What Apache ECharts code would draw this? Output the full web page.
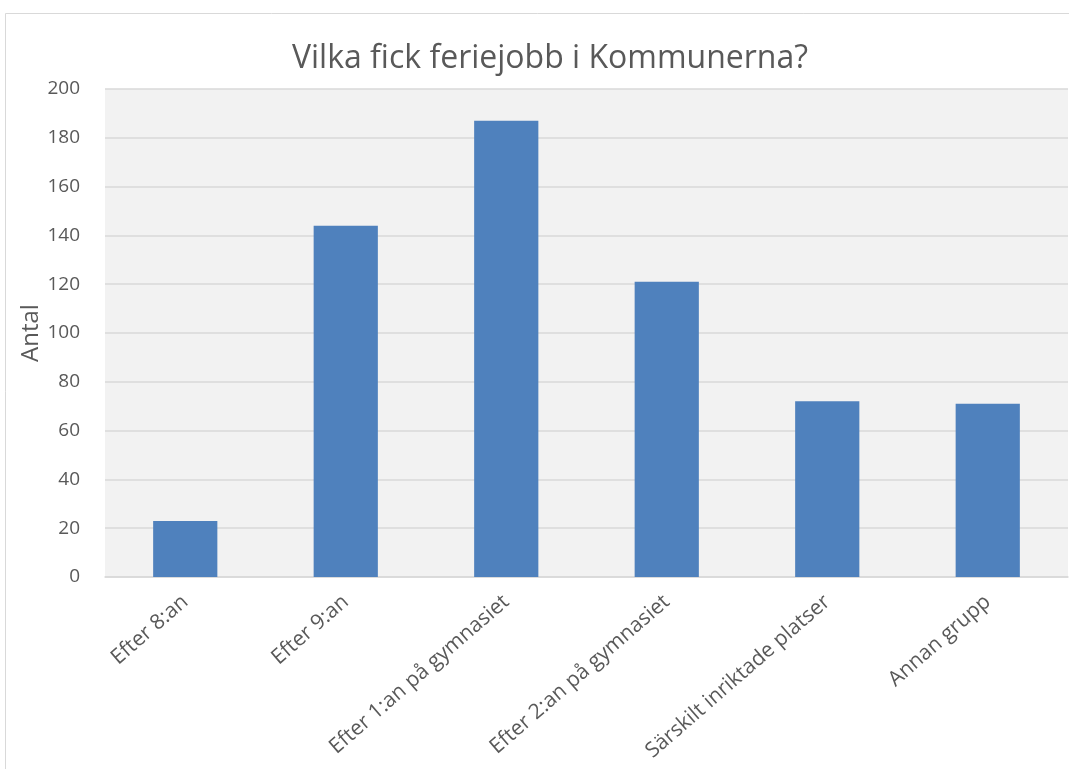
<!DOCTYPE html>
<html>
<head>
<meta charset="utf-8">
<script src="https://cdn.jsdelivr.net/npm/echarts@6/dist/echarts.min.js"></script>
<style>
  html, body { margin: 0; padding: 0; background: #fff; }
  #chart { width: 1069px; height: 769px; }
</style>
</head>
<body>
<div id="chart"></div>
<script>
var categories = ['Efter 8:an', 'Efter 9:an', 'Efter 1:an på gymnasiet', 'Efter 2:an på gymnasiet', 'Särskilt inriktade platser', 'Annan grupp'];
var antal = [23, 144, 187, 121, 72, 71];
var yTicks = { min: 0, max: 200, interval: 20 };

var font = 'Open Sans';
var textColor = '#595959';

var chart = echarts.init(document.getElementById('chart'), null, { renderer: 'canvas' });

chart.setOption({
  backgroundColor: '#fff',
  animation: false,
  title: {
    text: 'Vilka fick feriejobb i Kommunerna?',
    left: 545,
    textAlign: 'center',
    top: 38,
    textStyle: { fontFamily: font, fontSize: 32, fontWeight: 'normal', color: textColor }
  },
  graphic: [{
    type: 'rect',
    shape: { x: 5.5, y: 13.5, width: 1100, height: 800 },
    style: { fill: 'none', stroke: '#d9d9d9', lineWidth: 1 },
    silent: true
  }],
  grid: {
    left: 105,
    right: 1,
    top: 89,
    bottom: 192,
    show: true,
    backgroundColor: '#f2f2f2',
    borderWidth: 0
  },
  xAxis: {
    type: 'category',
    data: categories,
    axisLine: { lineStyle: { color: '#d9d9d9', width: 1.5 } },
    axisTick: { show: false },
    axisLabel: {
      rotate: 41,
      margin: 22,
      interval: 0,
      fontFamily: font,
      fontSize: 21,
      color: textColor
    }
  },
  yAxis: {
    type: 'value',
    min: yTicks.min,
    max: yTicks.max,
    interval: yTicks.interval,
    name: 'Antal',
    nameLocation: 'middle',
    nameGap: 62,
    nameMoveOverlap: false,
    nameTextStyle: { fontFamily: font, fontSize: 24, color: textColor },
    axisLine: { show: false },
    axisTick: { show: false },
    splitLine: { lineStyle: { color: '#d9d9d9', width: 1.5 } },
    axisLabel: { margin: 25, fontFamily: font, fontSize: 19, color: textColor }
  },
  series: [{
    type: 'bar',
    data: antal,
    barWidth: '40%',
    itemStyle: { color: '#4f81bd' }
  }]
});
</script>
</body>
</html>
